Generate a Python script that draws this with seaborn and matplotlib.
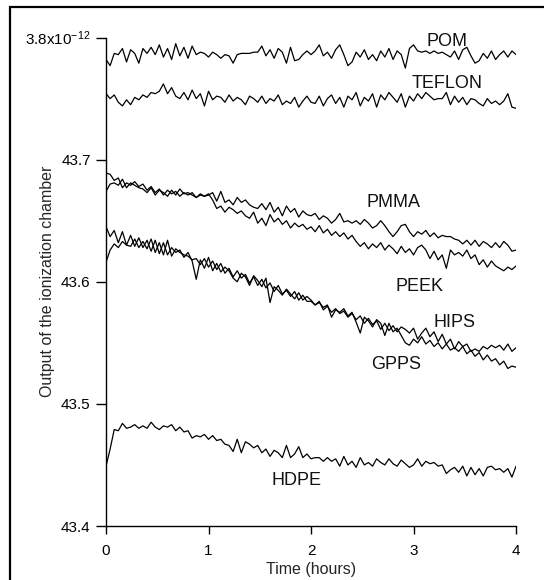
import numpy as np
import pandas as pd
import seaborn as sns
import matplotlib.pyplot as plt
from matplotlib.patches import Rectangle

# time grid (hours), one reading every 0.04 h
hours = np.arange(101) * 0.04

pom = [
    43.782, 43.777, 43.787, 43.786, 43.791, 43.780, 43.790, 43.787, 43.779, 43.791,
    43.787, 43.792, 43.786, 43.794, 43.784, 43.791, 43.782, 43.795, 43.785, 43.792,
    43.783, 43.793, 43.786, 43.788, 43.787, 43.784, 43.788, 43.786, 43.783, 43.786,
    43.785, 43.779, 43.786, 43.787, 43.787, 43.787, 43.788, 43.788, 43.793, 43.785,
    43.790, 43.783, 43.791, 43.788, 43.779, 43.792, 43.781, 43.782, 43.786, 43.789,
    43.786, 43.789, 43.794, 43.785, 43.788, 43.783, 43.790, 43.794, 43.786, 43.777,
    43.780, 43.788, 43.784, 43.790, 43.782, 43.786, 43.781, 43.789, 43.784, 43.791,
    43.782, 43.789, 43.786, 43.775, 43.791, 43.794, 43.789, 43.788, 43.789, 43.787,
    43.789, 43.787, 43.788, 43.786, 43.784, 43.789, 43.782, 43.790, 43.792, 43.785,
    43.779, 43.781, 43.787, 43.783, 43.789, 43.782, 43.786, 43.789, 43.784, 43.789, 43.786,
]
teflon = [
    43.754, 43.750, 43.753, 43.747, 43.744, 43.749, 43.745, 43.751, 43.749, 43.753,
    43.751, 43.755, 43.754, 43.756, 43.762, 43.754, 43.759, 43.752, 43.750, 43.755,
    43.749, 43.757, 43.750, 43.754, 43.744, 43.756, 43.749, 43.752, 43.751, 43.747,
    43.753, 43.748, 43.751, 43.749, 43.745, 43.752, 43.750, 43.747, 43.752, 43.746,
    43.750, 43.748, 43.753, 43.745, 43.748, 43.746, 43.751, 43.743, 43.748, 43.752,
    43.747, 43.746, 43.752, 43.744, 43.750, 43.753, 43.746, 43.751, 43.743, 43.752,
    43.749, 43.755, 43.744, 43.751, 43.748, 43.754, 43.743, 43.753, 43.749, 43.755,
    43.751, 43.747, 43.754, 43.743, 43.752, 43.748, 43.754, 43.750, 43.755, 43.752,
    43.749, 43.750, 43.750, 43.755, 43.745, 43.752, 43.747, 43.751, 43.745, 43.750,
    43.749, 43.746, 43.744, 43.750, 43.746, 43.748, 43.745, 43.748, 43.754, 43.743, 43.742,
]
pmma = [
    43.674, 43.680, 43.681, 43.679, 43.684, 43.677, 43.681, 43.679, 43.677, 43.676,
    43.673, 43.677, 43.671, 43.675, 43.673, 43.670, 43.675, 43.671, 43.676, 43.672,
    43.673, 43.671, 43.669, 43.672, 43.670, 43.671, 43.673, 43.666, 43.674, 43.665,
    43.667, 43.663, 43.669, 43.665, 43.667, 43.663, 43.661, 43.660, 43.664, 43.659,
    43.665, 43.657, 43.661, 43.654, 43.662, 43.657, 43.660, 43.653, 43.658, 43.655,
    43.654, 43.656, 43.651, 43.654, 43.652, 43.648, 43.651, 43.656, 43.649, 43.650,
    43.648, 43.650, 43.647, 43.651, 43.648, 43.644, 43.646, 43.650, 43.646, 43.641,
    43.637, 43.641, 43.646, 43.647, 43.641, 43.637, 43.641, 43.639, 43.642, 43.637,
    43.640, 43.636, 43.638, 43.637, 43.637, 43.635, 43.634, 43.631, 43.634, 43.630,
    43.634, 43.629, 43.633, 43.631, 43.628, 43.632, 43.628, 43.633, 43.630, 43.625, 43.626,
]
peek = [
    43.689, 43.688, 43.683, 43.685, 43.677, 43.681, 43.679, 43.682, 43.678, 43.680,
    43.675, 43.678, 43.673, 43.676, 43.671, 43.675, 43.672, 43.674, 43.670, 43.673,
    43.671, 43.673, 43.669, 43.671, 43.670, 43.672, 43.667, 43.660, 43.662, 43.657,
    43.661, 43.659, 43.656, 43.658, 43.654, 43.652, 43.657, 43.648, 43.652, 43.646,
    43.655, 43.649, 43.652, 43.647, 43.650, 43.644, 43.648, 43.645, 43.647, 43.643,
    43.645, 43.641, 43.646, 43.640, 43.643, 43.638, 43.641, 43.637, 43.640, 43.635,
    43.638, 43.633, 43.629, 43.632, 43.627, 43.631, 43.628, 43.632, 43.626, 43.630,
    43.627, 43.623, 43.629, 43.624, 43.627, 43.622, 43.628, 43.630, 43.626, 43.619,
    43.625, 43.618, 43.622, 43.611, 43.626, 43.622, 43.624, 43.621, 43.626, 43.619,
    43.622, 43.614, 43.618, 43.612, 43.617, 43.613, 43.611, 43.609, 43.612, 43.610, 43.613,
]
hips = [
    43.616, 43.626, 43.631, 43.628, 43.633, 43.630, 43.629, 43.635, 43.628, 43.633,
    43.627, 43.635, 43.624, 43.632, 43.622, 43.634, 43.621, 43.627, 43.624, 43.622,
    43.621, 43.618, 43.619, 43.614, 43.619, 43.612, 43.617, 43.610, 43.615, 43.607,
    43.611, 43.604, 43.609, 43.603, 43.606, 43.599, 43.604, 43.597, 43.602, 43.595,
    43.599, 43.592, 43.597, 43.590, 43.593, 43.588, 43.592, 43.585, 43.589, 43.584,
    43.584, 43.581, 43.584, 43.577, 43.580, 43.575, 43.578, 43.574, 43.576, 43.571,
    43.574, 43.569, 43.572, 43.566, 43.570, 43.565, 43.568, 43.561, 43.566, 43.560,
    43.564, 43.559, 43.563, 43.561, 43.558, 43.562, 43.553, 43.558, 43.562, 43.555,
    43.559, 43.551, 43.557, 43.549, 43.553, 43.545, 43.551, 43.547, 43.549, 43.543,
    43.545, 43.543, 43.547, 43.545, 43.548, 43.546, 43.548, 43.544, 43.549, 43.543, 43.546,
]
gpps = [
    43.645, 43.637, 43.642, 43.632, 43.641, 43.630, 43.638, 43.629, 43.636, 43.628,
    43.634, 43.625, 43.634, 43.623, 43.632, 43.622, 43.628, 43.624, 43.626, 43.620,
    43.624, 43.617, 43.602, 43.618, 43.611, 43.620, 43.609, 43.615, 43.608, 43.612,
    43.609, 43.603, 43.600, 43.607, 43.604, 43.597, 43.605, 43.601, 43.596, 43.603,
    43.583, 43.596, 43.593, 43.589, 43.594, 43.590, 43.586, 43.591, 43.585, 43.588,
    43.585, 43.581, 43.583, 43.579, 43.581, 43.571, 43.577, 43.575, 43.578, 43.572,
    43.575, 43.567, 43.558, 43.571, 43.568, 43.563, 43.569, 43.566, 43.556, 43.566,
    43.559, 43.562, 43.556, 43.550, 43.548, 43.553, 43.550, 43.555, 43.549, 43.552,
    43.547, 43.550, 43.545, 43.549, 43.544, 43.546, 43.543, 43.547, 43.541, 43.544,
    43.539, 43.542, 43.536, 43.540, 43.535, 43.537, 43.532, 43.535, 43.529, 43.531, 43.530,
]
hdpe = [
    43.449, 43.463, 43.479, 43.478, 43.484, 43.480, 43.481, 43.483, 43.480, 43.482,
    43.480, 43.485, 43.481, 43.479, 43.482, 43.481, 43.483, 43.478, 43.481, 43.477,
    43.478, 43.472, 43.474, 43.473, 43.475, 43.471, 43.474, 43.470, 43.471, 43.467,
    43.466, 43.461, 43.471, 43.460, 43.469, 43.467, 43.464, 43.466, 43.460, 43.463,
    43.457, 43.462, 43.460, 43.456, 43.466, 43.456, 43.459, 43.465, 43.456, 43.459,
    43.455, 43.456, 43.456, 43.453, 43.456, 43.453, 43.455, 43.449, 43.457, 43.450,
    43.453, 43.448, 43.456, 43.450, 43.452, 43.449, 43.455, 43.452, 43.450, 43.455,
    43.451, 43.449, 43.454, 43.451, 43.448, 43.450, 43.455, 43.449, 43.453, 43.451,
    43.452, 43.449, 43.450, 43.443, 43.446, 43.448, 43.444, 43.449, 43.441, 43.448,
    43.442, 43.447, 43.441, 43.448, 43.449, 43.446, 43.447, 43.444, 43.447, 43.440, 43.449,
]

materials = ["POM", "TEFLON", "PMMA", "PEEK", "HIPS", "GPPS", "HDPE"]
series = [pom, teflon, pmma, peek, hips, gpps, hdpe]

# label positions (hours, output)
label_x = [3.33, 3.33, 2.80, 3.06, 3.40, 2.83, 1.86]
label_y = [43.797, 43.762, 43.665, 43.596, 43.567, 43.532, 43.437]

y_ticks = [43.4, 43.5, 43.6, 43.7, 43.8]
y_tick_labels = ["43.4", "43.5", "43.6", "43.7", "3.8x10$^{-12}$"]


def main():
    sns.set_theme(style="ticks")
    plt.rcParams["font.family"] = ["Liberation Sans", "DejaVu Sans"]
    plt.rcParams["mathtext.fontset"] = "custom"
    plt.rcParams["mathtext.rm"] = "Liberation Sans"
    plt.rcParams["mathtext.it"] = "Liberation Sans:italic"

    frames = []
    for name, values in zip(materials, series):
        frames.append(pd.DataFrame({"hours": hours, "output": values, "material": name}))
    df = pd.concat(frames, ignore_index=True)

    fig = plt.figure(figsize=(5.44, 5.80), dpi=100)
    ax = fig.add_axes([0.1949, 0.0931, 0.7537, 0.8422])

    sns.lineplot(data=df, x="hours", y="output", units="material", estimator=None,
                 color="black", linewidth=0.9, ax=ax, legend=False)

    for name, tx, ty in zip(materials, label_x, label_y):
        ax.text(tx, ty, name, ha="center", va="center", fontsize=13, color="#111111",
                clip_on=False)

    ax.set_xlim(0, 4)
    ax.set_ylim(43.4, 43.8)
    ax.set_xticks([0, 1, 2, 3, 4])
    ax.set_yticks(y_ticks)
    ax.set_yticklabels(y_tick_labels)
    ax.tick_params(axis="both", colors="black", labelsize=11, width=1.0, length=7)
    ax.tick_params(axis="x", length=6, pad=7)
    ax.tick_params(axis="y", pad=4)
    ax.set_xlabel("Time (hours)", fontsize=11.5, labelpad=3)
    ax.set_ylabel("Output of the ionization chamber", fontsize=11.5)
    # label sits just left of the numeric tick labels, below the long top label
    ax.yaxis.set_label_coords(-0.125, 0.5)
    sns.despine(ax=ax)
    for side in ["left", "bottom"]:
        ax.spines[side].set_color("black")
        ax.spines[side].set_linewidth(1.0)

    # frame round the figure (right and bottom edges fall outside the picture)
    fig.patches.append(Rectangle((10 / 544, -0.1), 1.2, 1.1 - 7 / 580,
                                 transform=fig.transFigure, fill=False,
                                 edgecolor="black", linewidth=1.6))

    fig.savefig("out.png", dpi=100)


if __name__ == "__main__":
    main()
